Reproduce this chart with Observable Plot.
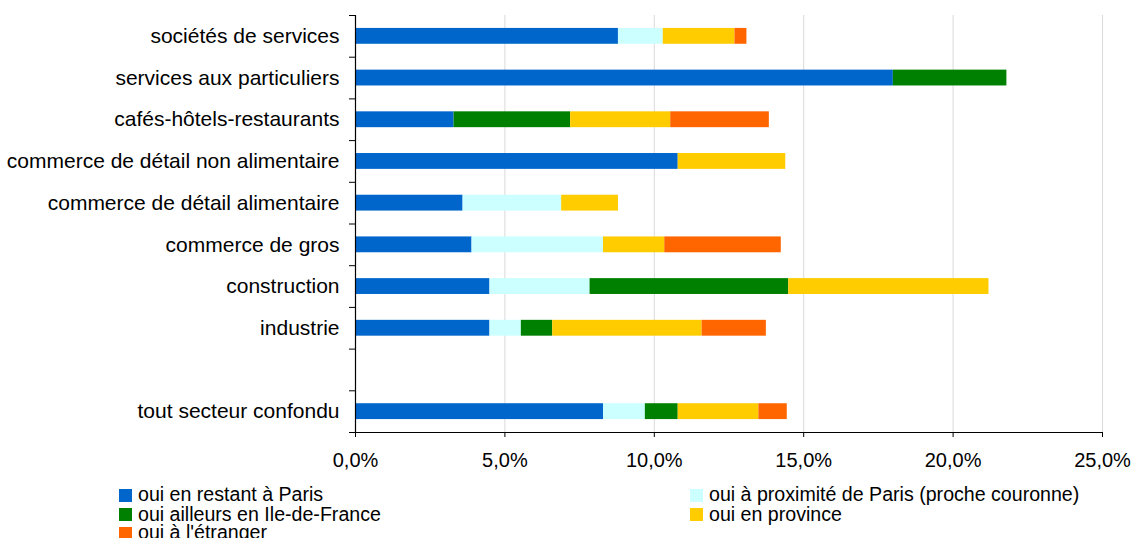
<!DOCTYPE html>
<html>
<head>
<meta charset="utf-8">
<script src="https://cdn.jsdelivr.net/npm/d3@7"></script>
<script src="https://cdn.jsdelivr.net/npm/@observablehq/plot@0.6"></script>
<style>
  html, body { margin: 0; padding: 0; background: #fff; }
  body { position: relative; width: 1136px; height: 538px; overflow: hidden; font-family: "Liberation Sans", Arial, sans-serif; }
  #chart svg { display: block; }
  .lg { position: absolute; display: flex; align-items: center; font-size: 19.6px; color: #000; white-space: nowrap; line-height: 1; }
  .lg span.sw { display: inline-block; width: 13px; height: 13px; margin-right: 6px; flex: none; }
</style>
</head>
<body>
<div id="chart"></div>
<div id="legend"></div>
<script>
const categories = [
  "sociétés de services",
  "services aux particuliers",
  "cafés-hôtels-restaurants",
  "commerce de détail non alimentaire",
  "commerce de détail alimentaire",
  "commerce de gros",
  "construction",
  "industrie",
  "",
  "tout secteur confondu"
];
const seriesNames = [
  "oui en restant à Paris",
  "oui à proximité de Paris (proche couronne)",
  "oui ailleurs en Ile-de-France",
  "oui en province",
  "oui à l'étranger"
];
const seriesColors = ["#0066cc", "#ccffff", "#008000", "#ffcc00", "#ff6600"];
// values in %
const parisValues     = [8.8, 18.0, 3.3, 10.8, 3.6, 3.9, 4.5, 4.5, null, 8.3];
const procheValues    = [1.5, 0,    0,   0,    3.3, 4.4, 3.35, 1.05, null, 1.4];
const idfValues       = [0,   3.8,  3.9, 0,    0,   0,   6.65, 1.05, null, 1.1];
const provinceValues  = [2.4, 0,    3.35, 3.6, 1.9, 2.05, 6.7, 5.0, null, 2.7];
const etrangerValues  = [0.4, 0,    3.3, 0,    0,   3.9, 0,    2.15, null, 0.95];
const xTicks = [0, 5, 10, 15, 20, 25];

const allValues = [parisValues, procheValues, idfValues, provinceValues, etrangerValues];
const data = [];
categories.forEach((c, i) => {
  allValues.forEach((vals, s) => {
    if (vals[i] != null) data.push({cat: c, serie: seriesNames[s], value: vals[i]});
  });
});

const W = 1136, H = 482, mTop = 15, mBottom = 50, mLeft = 355, mRight = 34;
const step = (H - mTop - mBottom) / categories.length;

const fmt = d => d.toFixed(1).replace(".", ",") + "%";

const chart = Plot.plot({
  width: W,
  height: H,
  marginTop: mTop,
  marginBottom: mBottom,
  marginLeft: mLeft,
  marginRight: mRight,
  style: {fontFamily: "'Liberation Sans', Arial, sans-serif", fontSize: "20px", color: "#000", background: "#fff"},
  x: {domain: [0, 25], ticks: xTicks},
  y: {domain: categories, paddingInner: 0.62, paddingOuter: 0.31, round: false},
  color: {domain: seriesNames, range: seriesColors},
  marks: [
    Plot.gridX(xTicks.filter(d => d > 0), {stroke: "#d9d9d9", strokeOpacity: 1, strokeWidth: 1}),
    Plot.barX(data, {x: "value", y: "cat", fill: "serie", order: seriesNames}),
    Plot.ruleX([0], {stroke: "#000", strokeWidth: 1.2}),
    Plot.ruleY([categories[categories.length - 1]], {dy: step / 2, stroke: "#000", strokeWidth: 1.2}),
    Plot.axisX({ticks: xTicks, tickFormat: fmt, tickSize: 5, tickPadding: 15, fontSize: 20, stroke: "#000", label: null}),
    Plot.axisY({tickSize: 6, text: null, dy: -step / 2, stroke: "#000", label: null}),
    Plot.axisY({ticks: [categories[categories.length - 1]], tickSize: 6, text: null, dy: step / 2, stroke: "#000", label: null}),
    Plot.axisY({tickSize: 0, tickPadding: 16, fontSize: 21, label: null})
  ]
});
document.getElementById("chart").appendChild(chart);

// legend
const legendPos = [
  {x: 119, y: 495},
  {x: 690, y: 495},
  {x: 119, y: 514.5},
  {x: 690, y: 514.5},
  {x: 119, y: 533}
];
const lg = document.getElementById("legend");
seriesNames.forEach((n, i) => {
  const d = document.createElement("div");
  d.className = "lg";
  d.style.left = legendPos[i].x + "px";
  d.style.top = (legendPos[i].y - 9) + "px";
  d.style.height = "18px";
  d.innerHTML = `<span class="sw" style="background:${seriesColors[i]}"></span><span>${n}</span>`;
  lg.appendChild(d);
});
</script>
</body>
</html>
